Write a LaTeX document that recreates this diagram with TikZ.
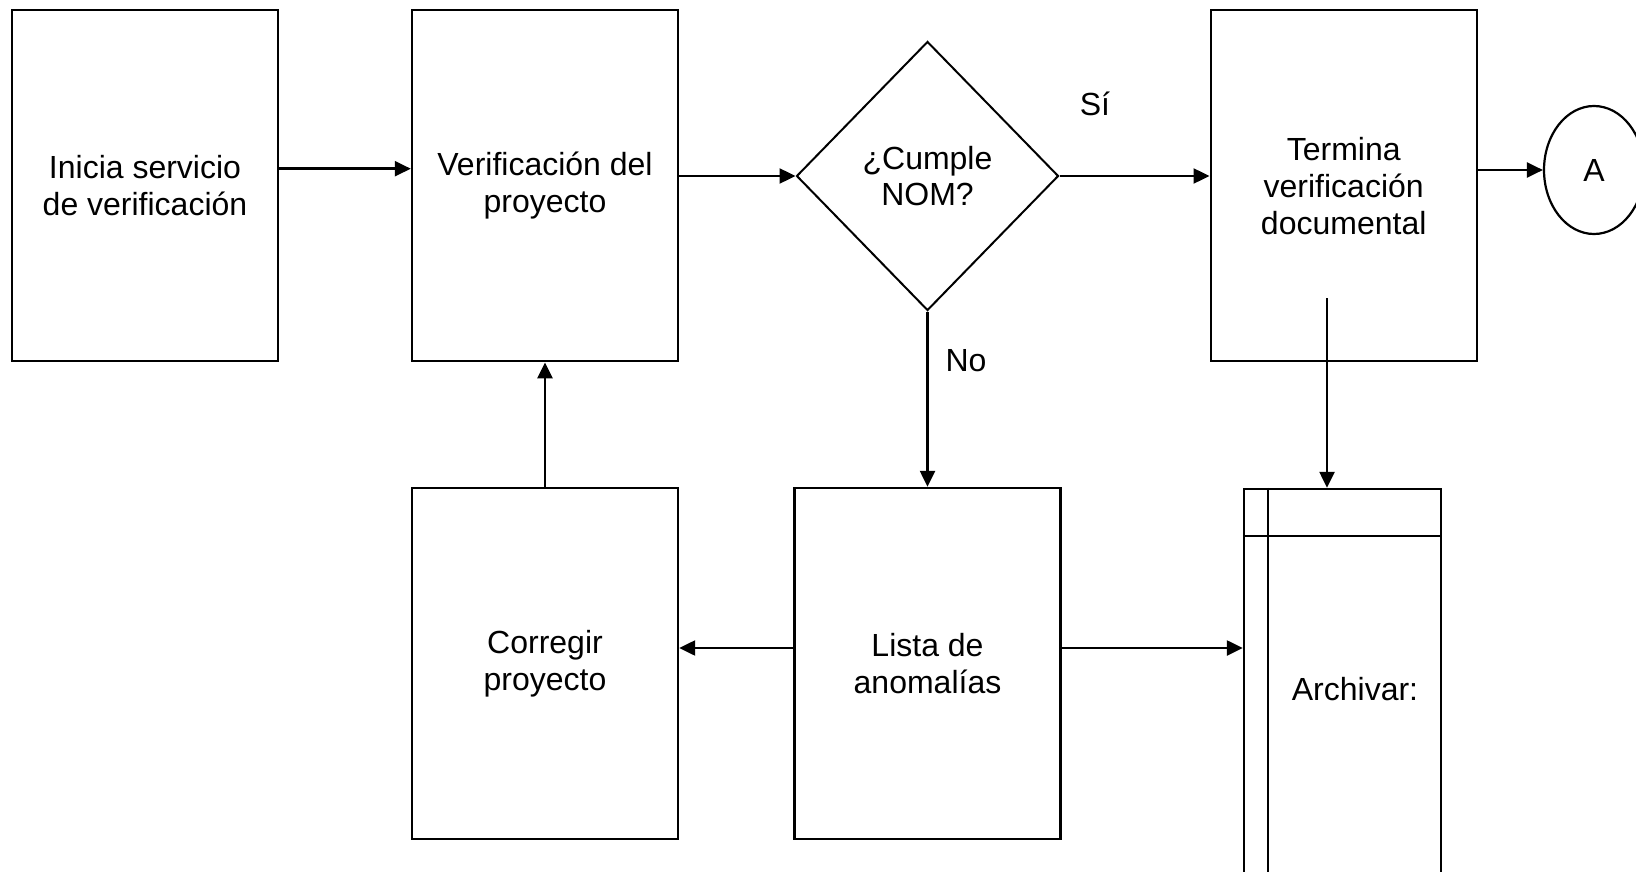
\documentclass[tikz,border=0pt]{standalone}
\usepackage{fontspec}
\setmainfont{Liberation Sans}
\usepackage{tikz}
\usetikzlibrary{shapes.geometric, arrows.meta, positioning, calc}

\tikzset{
    % Common
    arrowFlow/.style={-{Triangle[length=16pt,width=15pt]}, line width=2.4pt, draw=black},
    baseFont/.style={font=\fontsize{32}{37}\selectfont},
    % Shapes
    procBox/.style={rectangle, draw=black, line width=2.4pt, minimum width=266pt, minimum height=351pt, inner sep=0pt, align=center, baseFont},
    decisionBox/.style={diamond, draw=black, line width=2pt, minimum width=262pt, minimum height=269pt, inner sep=0pt, align=center, font=\fontsize{32}{36}\selectfont},
    connCircle/.style={ellipse, draw=black, line width=2.2pt, minimum width=100pt, minimum height=128pt, inner sep=0pt, baseFont},
    archBox/.style={rectangle, draw=black, line width=2.4pt, minimum width=197pt, minimum height=420pt, inner sep=0pt},
    labelText/.style={baseFont, inner sep=0pt}
}

\begin{document}
\begin{tikzpicture}[x=1pt, y=-1pt]
    \clip (0,0) rectangle (1636,872);

    % Top row
    \node[procBox] (inicia) at (145, 185.7) {Inicia servicio\\de verificación};
    \node[procBox] (verif) at (545, 185.7) {Verificación del\\proyecto};
    \node[decisionBox] (cumple) at (927.5, 176) {¿Cumple\\NOM?};
    \node[procBox] (termina) at (1343.7, 185.7) {Termina\\verificación\\documental};
    \node[connCircle] (conA) at (1594, 170) {A};

    % Bottom row
    \node[procBox] (corregir) at (545, 663.5) {Corregir\\proyecto};
    \node[procBox] (lista) at (927.5, 663.5) {Lista de\\anomalías};
    \node[archBox] (archivo) at (1342.5, 699) {};
    \draw[line width=2pt] ([xshift=25pt]archivo.north west) -- ([xshift=25pt]archivo.south west);
    \draw[line width=2pt] ([yshift=-48pt]archivo.north west) -- ([yshift=-48pt]archivo.north east);
    \node[labelText] (archTxt) at (1355, 689) {Archivar:};

    % Labels
    \node[labelText] (lblSi) at (1095, 104) {Sí};
    \node[labelText] (lblNo) at (966, 361) {No};

    % Flow
    \draw[arrowFlow] ([yshift=17pt]inicia.east) -- ([yshift=17pt]verif.west);
    \draw[arrowFlow] (verif.east |- cumple.west) -- (cumple.west);
    \draw[arrowFlow] (cumple.east) -- (cumple.east -| termina.west);
    \draw[arrowFlow] (termina.east |- conA.west) -- (conA.west);
    \draw[arrowFlow] (cumple.south) -- (lista.north);
    \coordinate (termOut) at (1327, 298);
    \draw[arrowFlow] (termOut) -- (termOut |- archivo.north);
    \draw[arrowFlow] ([yshift=15.5pt]lista.east) -- ([yshift=15.5pt]lista.east -| archivo.west);
    \draw[arrowFlow] ([yshift=15.5pt]lista.west) -- ([yshift=15.5pt]lista.west -| corregir.east);
    \draw[arrowFlow] (corregir.north) -- (verif.south);
\end{tikzpicture}
\end{document}
